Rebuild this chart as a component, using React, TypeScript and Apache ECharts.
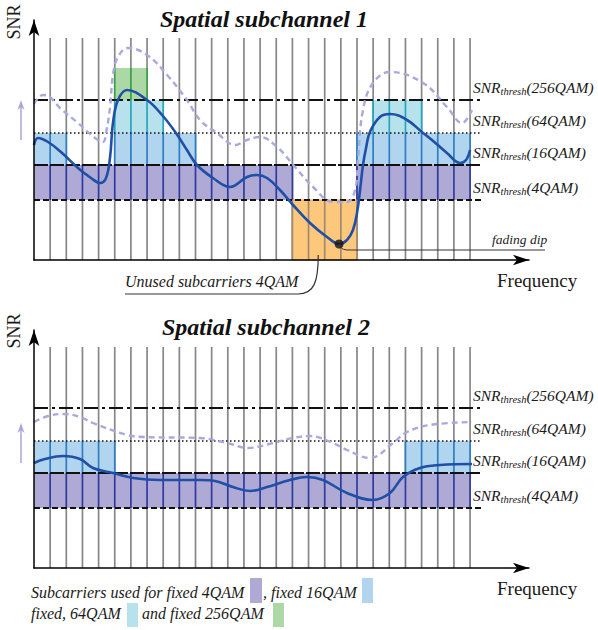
import React, { useEffect, useRef } from 'react';
import * as echarts from 'echarts';

// ---------- data ----------
const SUBCARRIER_EDGES = Array.from({ length: 27 }, (_, i) => i + 1); // boundaries 1..27
const THRESHOLD_NAMES = ['4QAM', '16QAM', '64QAM', '256QAM'];
const THRESHOLDS = [6, 9.5, 12.7, 16];
const THRESHOLD_END = 27.74;
const GRID_TOP_1 = 22.2;
const GRID_TOP_2 = 22.1;

// bands: [fromCarrier, toCarrier, fromSNR, toSNR, kind(0=4QAM,1=16QAM,2=64QAM,3=256QAM,4=unused)]
const BANDS_1 = [
  [0, 16, 6, 9.5, 0],
  [20, 27, 6, 9.5, 0],
  [16, 20, 0, 6, 4],
  [0, 2, 9.5, 12.7, 1],
  [5, 10, 9.5, 12.7, 1],
  [20, 27, 9.5, 12.7, 1],
  [5, 8, 12.7, 16, 2],
  [21, 24, 12.7, 16, 2],
  [5, 7, 16, 19.2, 3],
];
const BANDS_2 = [
  [0, 27, 6, 9.5, 0],
  [0, 5, 9.5, 12.7, 1],
  [23, 27, 9.5, 12.7, 1],
];

const SNR_1 = [
  [0, 11.5], [0.25, 12.2], [0.87, 11.8], [1.67, 10.8], [2.72, 9.2], [3.53, 8.2], [4.09, 7.7],
  [4.46, 8.2], [4.71, 10.3], [4.89, 13.7], [5.2, 16.0], [5.76, 17.0], [7.0, 16.0], [7.93, 14.5],
  [8.79, 12.7], [9.47, 11.0], [10.09, 9.5], [11.08, 8.2], [12.14, 7.3], [13.19, 8.3], [13.81, 8.5],
  [14.43, 8.2], [15.23, 7.0], [16.04, 5.5], [17.09, 3.7], [18.14, 2.3], [18.89, 1.6], [19.38, 2.0],
  [19.75, 3.0], [20.0, 4.7], [20.19, 7.0], [20.37, 9.5], [20.56, 11.2], [20.8, 12.8], [21.42, 14.3],
  [22.04, 14.6], [23.1, 14.0], [24.09, 12.7], [24.64, 12.0], [25.57, 10.7], [26.38, 9.7],
  [26.75, 10.0], [27.0, 11.0],
];
const SNR_1_AVG = [
  [0, 15.6], [0.56, 16.5], [0.99, 16.3], [1.61, 15.2], [2.72, 13.7], [3.78, 12.2], [4.27, 11.8],
  [4.46, 12.7], [4.71, 15.3], [4.89, 18.5], [5.2, 20.3], [5.82, 21.2], [7.0, 20.5], [8.24, 18.5],
  [9.47, 16.0], [10.28, 14.0], [11.33, 12.7], [12.45, 11.5], [13.19, 12.0], [13.99, 12.3],
  [15.05, 11.3], [16.16, 9.3], [17.28, 7.3], [18.51, 5.8], [19.38, 5.8], [19.88, 7.0], [20.06, 10.0],
  [20.37, 15.0], [20.99, 17.7], [22.04, 18.8], [24.09, 17.7], [25.57, 15.3], [26.5, 13.7], [27.12, 15.0],
];
const SNR_2 = [
  [0, 10.5], [0.68, 10.9], [1.8, 11.2], [2.85, 10.9], [3.65, 10.0], [4.89, 9.5], [6.13, 9.0],
  [7.8, 8.8], [10.28, 8.8], [11.21, 8.7], [12.32, 8.1], [13.37, 7.7], [14.43, 8.1], [15.85, 8.8],
  [16.9, 9.1], [17.89, 8.8], [19.38, 7.5], [20.99, 6.8], [22.04, 7.5], [22.85, 9.1], [23.9, 10.0],
  [25.14, 10.3], [27.12, 10.4],
];
const SNR_2_AVG = [
  [0, 14.6], [0.87, 15.2], [1.8, 15.4], [2.85, 15.1], [3.65, 14.5], [5.76, 13.3], [6.75, 13.1],
  [10.28, 13.0], [11.95, 12.5], [13.25, 12.0], [14.8, 12.5], [16.04, 13.0], [17.09, 13.2],
  [18.51, 12.5], [19.38, 11.8], [20.8, 11.0], [22.23, 12.5], [23.1, 13.6], [24.52, 14.3], [27.12, 14.6],
];
const FADING_DIP = [18.89, 1.6];
const UNUSED_RANGE = [16, 20];

// ---------- styles ----------
const SERIF = '"Liberation Serif", "Times New Roman", serif';
const BAND_STYLE = [
  { fill: '#aeaad5', line: '#2f3a9c' },
  { fill: '#b1d5ee', line: '#2f7dc2' },
  { fill: '#b8e2eb', line: '#25a6bf' },
  { fill: '#acd8a6', line: '#3a9f48' },
  { fill: '#fdc77c', line: '#a08a70', stroke: '#e3a04a' },
];
const THRESH_DASH = [[6, 3], [14, 2], [1.5, 2.5], [14, 4, 3, 4]];
const SOLID = '#1f4fa6';
const DIP = '#6a3d9e';
const AVG = '#a9a9de';
const ARROW_BASE = [12, 10.5];

const vLines = (top: number) => (params: any, api: any) => {
  const k = api.value(0);
  const a = api.coord([k, 0]);
  const b = api.coord([k, top]);
  return {
    type: 'line',
    shape: { x1: a[0], y1: a[1], x2: b[0], y2: b[1] },
    style: { stroke: '#878787', lineWidth: 1.7 },
  };
};

const bandItem = (params: any, api: any) => {
  const x0 = api.value(0), x1 = api.value(1), y0 = api.value(2), y1 = api.value(3);
  const st = BAND_STYLE[api.value(4)];
  const tl = api.coord([x0, y1]);
  const br = api.coord([x1, y0]);
  const children: any[] = [
    {
      type: 'rect',
      shape: { x: tl[0], y: tl[1], width: br[0] - tl[0], height: br[1] - tl[1] },
      style: { fill: st.fill, stroke: st.stroke || null, lineWidth: 1 },
    },
  ];
  for (let k = Math.ceil(x0); k <= x1; k++) {
    if (k === 0) continue;
    const a = api.coord([k, y0]);
    const b = api.coord([k, y1]);
    children.push({
      type: 'line',
      shape: { x1: a[0], y1: a[1], x2: b[0], y2: b[1] },
      style: { stroke: st.line, lineWidth: 1.7 },
    });
  }
  return { type: 'group', children };
};

const threshItem = (params: any, api: any) => {
  const t = api.value(0);
  const s = api.value(1);
  const a = api.coord([0, t]);
  const b = api.coord([THRESHOLD_END, t]);
  return {
    type: 'line',
    shape: { x1: a[0], y1: a[1], x2: b[0], y2: b[1] },
    style: { stroke: '#111', lineWidth: s === 2 ? 1.6 : 1.8, lineDash: THRESH_DASH[s] },
  };
};

const axisCommon = {
  type: 'value' as const,
  axisTick: { show: false },
  axisLabel: { show: false },
  splitLine: { show: false },
  z: 10,
};

function txt(x: number, y: number, text: string, size: number, opts: any = {}) {
  return {
    type: 'text',
    x,
    y,
    rotation: opts.rotation || 0,
    z: 100,
    style: {
      text,
      fontSize: size,
      fontFamily: SERIF,
      fontStyle: opts.italic ? 'italic' : 'normal',
      fontWeight: opts.bold ? 'bold' : 'normal',
      fill: opts.color || '#1a1a1a',
      align: opts.align || 'left',
      textAlign: opts.align || 'left',
      verticalAlign: 'middle',
      textVerticalAlign: 'middle',
    },
  };
}

export default function App() {
  const ref = useRef<HTMLDivElement>(null);
  useEffect(() => {
    const chart = echarts.init(ref.current!, null, { renderer: 'svg' });
    const threshData = THRESHOLDS.map((t, i) => [t, i]);
    const series: any[] = [];
    [0, 1].forEach((g) => {
      const top = g === 0 ? GRID_TOP_1 : GRID_TOP_2;
      series.push({
        type: 'custom', xAxisIndex: g, yAxisIndex: g, z: 1, silent: true,
        renderItem: vLines(top), data: SUBCARRIER_EDGES.map((k) => [k]),
      });
      series.push({
        type: 'custom', xAxisIndex: g, yAxisIndex: g, z: 2, silent: true,
        renderItem: bandItem, data: g === 0 ? BANDS_1 : BANDS_2,
      });
      series.push({
        type: 'custom', xAxisIndex: g, yAxisIndex: g, z: 3, silent: true,
        renderItem: threshItem, data: threshData,
      });
      series.push({
        type: 'line', xAxisIndex: g, yAxisIndex: g, z: 4, smooth: 0.4, showSymbol: false,
        data: g === 0 ? SNR_1_AVG : SNR_2_AVG,
        lineStyle: { color: AVG, width: 2.4, type: [6, 4] },
      });
      series.push({
        type: 'line', xAxisIndex: g, yAxisIndex: g, z: 5, smooth: 0.4, showSymbol: false,
        data: g === 0 ? SNR_1 : SNR_2,
        lineStyle: { color: SOLID, width: 2.6 },
      });
    });
    const solid1Index = 4;
    series.push({
      type: 'scatter', xAxisIndex: 0, yAxisIndex: 0, z: 6, symbolSize: 9,
      data: [FADING_DIP], itemStyle: { color: '#111' },
    });

    chart.setOption({
      animation: false,
      backgroundColor: '#fff',
      grid: [
        { left: 34, top: 20, width: 495, height: 240 },
        { left: 34, top: 330, width: 495, height: 238 },
      ],
      xAxis: [0, 1].map((g) => ({
        ...axisCommon, gridIndex: g, min: 0, max: 30.65,
        axisLine: { show: true, lineStyle: { color: '#000', width: 1.5 }, symbol: ['none', 'arrow'], symbolSize: [8, 16] },
      })),
      yAxis: [0, 1].map((g) => ({
        ...axisCommon, gridIndex: g, min: 0, max: g === 0 ? 24 : 23.8,
        axisLine: { show: true, lineStyle: { color: '#000', width: 1.5 }, symbol: ['none', 'arrow'], symbolSize: [8, 16] },
      })),
      visualMap: [{
        type: 'piecewise', show: false, seriesIndex: solid1Index, dimension: 0,
        pieces: [
          { lt: UNUSED_RANGE[0], color: SOLID },
          { gte: UNUSED_RANGE[0], lt: UNUSED_RANGE[1], color: DIP },
          { gte: UNUSED_RANGE[1], color: SOLID },
        ],
      }],
      series,
    });

    const px = (g: number, p: number[]) => chart.convertToPixel({ gridIndex: g }, p) as number[];
    const graphic: any[] = [];
    // titles and axis names
    graphic.push(txt(264, 19, 'Spatial subchannel 1', 24, { bold: true, italic: true, align: 'center', color: '#111' }));
    graphic.push(txt(266, 327, 'Spatial subchannel 2', 24, { bold: true, italic: true, align: 'center', color: '#111' }));
    graphic.push(txt(14, 22, 'SNR', 18, { rotation: Math.PI / 2, align: 'center' }));
    graphic.push(txt(14, 331, 'SNR', 18, { rotation: Math.PI / 2, align: 'center' }));
    [0, 1].forEach((g) => {
      const origin = px(g, [0, 0]);
      graphic.push(txt(497, origin[1] + 20.5, 'Frequency', 19));
      // threshold labels
      THRESHOLDS.forEach((t, i) => {
        const p = px(g, [THRESHOLD_END, t]);
        graphic.push({
          type: 'text', x: 473, y: p[1] - 13, z: 100,
          style: {
            text: `{a|SNR}{b|thresh}{a|(${THRESHOLD_NAMES[i]})}`,
            align: 'left', textAlign: 'left', verticalAlign: 'middle', textVerticalAlign: 'middle',
            rich: {
              a: { fontSize: 15.5, fontStyle: 'italic', fontFamily: SERIF, lineHeight: 20, fill: '#1a1a1a', color: '#1a1a1a' },
              b: { fontSize: 10.5, fontStyle: 'italic', fontFamily: SERIF, lineHeight: 10, verticalAlign: 'bottom', fill: '#1a1a1a', color: '#1a1a1a' },
            },
          },
        });
      });
      // up arrows (SNR gain)
      const a0 = px(g, [0, ARROW_BASE[g]]);
      const ax = 21;
      const yBottom = a0[1];
      const yTop = yBottom - 40;
      graphic.push({ type: 'line', z: 100, shape: { x1: ax, y1: yBottom, x2: ax, y2: yTop + 4 }, style: { stroke: '#a9a9d8', lineWidth: 1.5 } });
      graphic.push({ type: 'polygon', z: 100, shape: { points: [[ax, yTop], [ax - 3.5, yTop + 10], [ax, yTop + 7], [ax + 3.5, yTop + 10]] }, style: { fill: '#a9a9d8' } });
    });

    // fading dip annotation
    const dip = px(0, FADING_DIP);
    graphic.push({
      type: 'bezierCurve', z: 100,
      shape: { x1: dip[0], y1: dip[1], cpx1: dip[0] + 2, cpy1: dip[1] + 6, cpx2: dip[0] + 6, cpy2: dip[1] + 6, x2: dip[0] + 12, y2: dip[1] + 6 },
      style: { stroke: '#333', lineWidth: 1, fill: null },
    });
    graphic.push({ type: 'line', z: 100, shape: { x1: dip[0] + 12, y1: dip[1] + 6, x2: 545, y2: dip[1] + 6 }, style: { stroke: '#333', lineWidth: 1 } });
    graphic.push(txt(492, dip[1] - 4.6, 'fading dip', 13.5, { italic: true }));

    // unused subcarriers annotation
    const unusedAnchor = px(0, [17.6, 0.5]);
    graphic.push(txt(125, 281.6, 'Unused subcarriers 4QAM', 16, { italic: true }));
    graphic.push({ type: 'line', z: 100, shape: { x1: 125, y1: 294, x2: 298, y2: 294 }, style: { stroke: '#333', lineWidth: 1.2 } });
    graphic.push({
      type: 'bezierCurve', z: 100,
      shape: { x1: 298, y1: 294, cpx1: 314, cpy1: 294, cpx2: unusedAnchor[0], cpy2: 282, x2: unusedAnchor[0], y2: unusedAnchor[1] },
      style: { stroke: '#333', lineWidth: 1.2, fill: null },
    });

    // legend
    graphic.push(txt(31, 592.6, 'Subcarriers used for fixed 4QAM', 16, { italic: true }));
    graphic.push({ type: 'rect', z: 100, shape: { x: 250, y: 578, width: 12, height: 25 }, style: { fill: BAND_STYLE[0].fill } });
    graphic.push(txt(263, 592.6, ', fixed 16QAM', 16, { italic: true }));
    graphic.push({ type: 'rect', z: 100, shape: { x: 362, y: 578, width: 11, height: 25 }, style: { fill: BAND_STYLE[1].fill } });
    graphic.push(txt(31, 613.6, 'fixed, 64QAM', 16, { italic: true }));
    graphic.push({ type: 'rect', z: 100, shape: { x: 127, y: 603, width: 11, height: 24 }, style: { fill: BAND_STYLE[2].fill } });
    graphic.push(txt(142, 613.6, 'and fixed 256QAM', 16, { italic: true }));
    graphic.push({ type: 'rect', z: 100, shape: { x: 273, y: 603, width: 11, height: 24 }, style: { fill: BAND_STYLE[3].fill } });

    chart.setOption({ graphic });
    return () => chart.dispose();
  }, []);
  return (
    <div
      ref={ref}
      style={{ position: 'absolute', left: 0, top: 0, width: 598, height: 630, background: '#fff' }}
    />
  );
}
